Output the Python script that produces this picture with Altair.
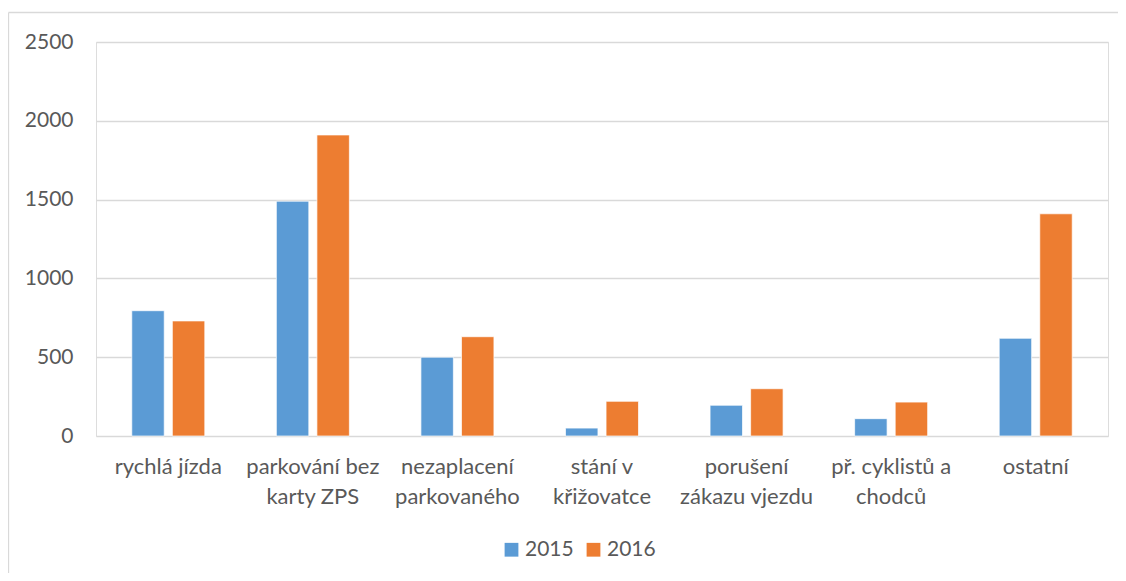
import altair as alt
import pandas as pd

categories = [
    "rychlá jízda",
    "parkování bez|karty ZPS",
    "nezaplacení|parkovaného",
    "stání v|křižovatce",
    "porušení|zákazu vjezdu",
    "př. cyklistů a|chodců",
    "ostatní",
]
years = ["2015", "2016"]
values_2015 = [795, 1490, 500, 50, 195, 110, 620]
values_2016 = [730, 1910, 630, 220, 300, 215, 1410]
y_ticks = [0, 500, 1000, 1500, 2000, 2500]

rows = []
for c, a, b in zip(categories, values_2015, values_2016):
    rows.append({"kategorie": c, "rok": years[0], "hodnota": a})
    rows.append({"kategorie": c, "rok": years[1], "hodnota": b})
df = pd.DataFrame(rows)

FONT = "Lato"
TXT = "#595959"
GRID = "#D9D9D9"
FS = 22
FS_NUM = 21

bars = alt.Chart(df).mark_bar(stroke="white", strokeWidth=0.7).encode(
    x=alt.X(
        "kategorie:N",
        sort=categories,
        title=None,
        scale=alt.Scale(paddingInner=0.495, paddingOuter=0.2475),
        axis=alt.Axis(
            labelExpr="split(datum.label, '|')",
            labelAngle=0,
            labelAlign="center",
            labelBaseline="top",
            labelPadding=20,
            labelLineHeight=30,
            labelFontSize=FS,
            labelFont=FONT,
            labelColor=TXT,
            domain=False,
            ticks=False,
            grid=False,
        ),
    ),
    xOffset=alt.XOffset("rok:N", sort=years, scale=alt.Scale(paddingInner=0.2, paddingOuter=0)),
    y=alt.Y(
        "hodnota:Q",
        title=None,
        scale=alt.Scale(domain=[0, 2500], nice=False),
        axis=alt.Axis(
            values=y_ticks,
            format="d",
            labelFontSize=FS_NUM,
            labelFont=FONT,
            labelColor=TXT,
            labelPadding=23,
            domain=False,
            ticks=False,
            gridColor=GRID,
            gridWidth=1.3,
        ),
    ),
    color=alt.Color(
        "rok:N",
        sort=years,
        title=None,
        scale=alt.Scale(domain=years, range=["#5B9BD5", "#ED7D31"]),
        legend=alt.Legend(
            orient="none",
            direction="horizontal",
            legendX=405,
            legendY=497,
            symbolType="square",
            symbolSize=190,
            symbolStrokeWidth=0,
            labelFontSize=FS_NUM,
            labelFont=FONT,
            labelColor=TXT,
            labelOffset=3,
            columnPadding=9,
            padding=0,
        ),
    ),
)

frame = pd.DataFrame({"k": [0]})
top_line = alt.Chart(frame).mark_rule(stroke=GRID, strokeWidth=1.3).encode(
    x=alt.value(-87.5), x2=alt.value(1022), y=alt.value(-29.5)
)
left_line = alt.Chart(frame).mark_rule(stroke=GRID, strokeWidth=1.3).encode(
    x=alt.value(-87.5), y=alt.value(-29.5), y2=alt.value(531)
)

chart = alt.layer(top_line, left_line, bars).properties(
    width=1012,
    height=394,
    autosize=alt.AutoSizeParams(type="none"),
    padding={"left": 88, "top": 34, "right": 10, "bottom": 137},
).configure_view(stroke=None).configure(background="white")

chart.save("out.html", embed_options={"renderer": "svg", "actions": False})
